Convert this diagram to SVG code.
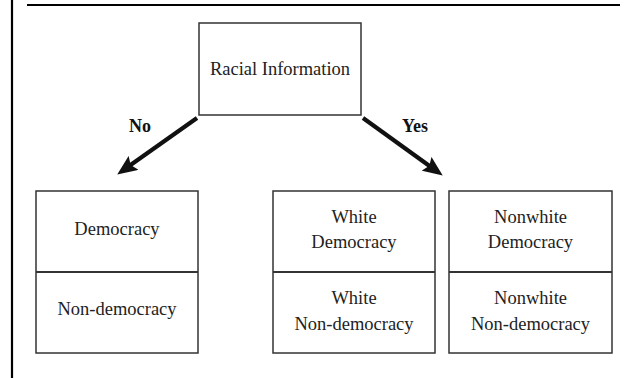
<svg xmlns="http://www.w3.org/2000/svg" width="632" height="378" viewBox="0 0 632 378">
<style>
.box{fill:#fff;stroke:#333;stroke-width:1.5}
.div{stroke:#333;stroke-width:2}
text{font-family:'Liberation Serif', 'Times New Roman', Times, serif}
.t{font-size:18.5px;fill:#222;text-anchor:middle}
.lb{font-size:18px;font-weight:bold;fill:#111;text-anchor:middle}
.rule{stroke:#000;stroke-width:2.2}
.arr{stroke:#111;stroke-width:4.2;fill:none;marker-end:url(#ah)}
</style>
<defs>
<marker id="ah" markerUnits="userSpaceOnUse" viewBox="0 0 20 17" refX="8" refY="8.5" markerWidth="20" markerHeight="17" orient="auto">
<path d="M0,0 L20,8.5 L0,17 L3.5,8.5 Z" fill="#111"/>
</marker>
</defs>
<rect width="632" height="378" fill="#fff"/>
<line class="rule" x1="12" y1="0" x2="12" y2="378"/>
<line class="rule" x1="27" y1="5" x2="620" y2="5"/>
<g id="connectors">
<line class="arr" x1="197" y1="118" x2="127" y2="167.5"/>
<line class="arr" x1="363" y1="118" x2="433" y2="168.5"/>
<text class="lb" x="140" y="132">No</text>
<text class="lb" x="415" y="132">Yes</text>
</g>
<g id="root">
<rect class="box" x="199" y="23" width="162" height="92"/>
<text class="t" x="280" y="75">Racial Information</text>
</g>
<g id="no-branch">
<rect class="box" x="36" y="191" width="162" height="162"/>
<line class="div" x1="36" y1="272" x2="198" y2="272"/>
<text class="t" x="117" y="235">Democracy</text>
<text class="t" x="117" y="315">Non-democracy</text>
</g>
<g id="white">
<rect class="box" x="273" y="191" width="162" height="162"/>
<line class="div" x1="273" y1="272" x2="435" y2="272"/>
<text class="t" x="354" y="223">White</text>
<text class="t" x="354" y="248">Democracy</text>
<text class="t" x="354" y="304">White</text>
<text class="t" x="354" y="330">Non-democracy</text>
</g>
<g id="nonwhite">
<rect class="box" x="449" y="191" width="163" height="162"/>
<line class="div" x1="449" y1="272" x2="612" y2="272"/>
<text class="t" x="530.5" y="223">Nonwhite</text>
<text class="t" x="530.5" y="248">Democracy</text>
<text class="t" x="530.5" y="304">Nonwhite</text>
<text class="t" x="530.5" y="330">Non-democracy</text>
</g>
</svg>
